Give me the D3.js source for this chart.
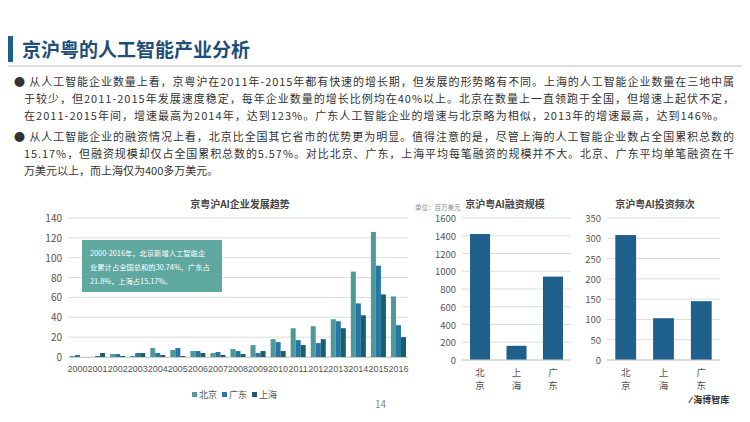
<!DOCTYPE html><html><head><meta charset="utf-8"><script src="https://cdn.jsdelivr.net/npm/d3@7"></script>
<style>body{margin:0;background:#fff;font-family:"Noto Sans CJK SC","Noto Sans",sans-serif}</style></head><body><svg id="c" width="750" height="422"></svg>
<script>
const years=["2000","2001","2002","2003","2004","2005","2006","2007","2008","2009","2010","2011","2012","2013","2014","2015","2016"];
const seriesNames=["北京","广东","上海"];
const beijing=[1,0,3,1,9,7,6,4,8,12,18,29,31,38,86,126,61];
const guangdong=[2,1,3,4,4,9,6,5,6,4,15,17,14,36,54,92,32];
const shanghai=[0,4,1,4,2,1,4,2,3,6,6,12,18,29,42,63,20];
const cities=["北京","上海","广东"];
const funding=[1420,160,940];
const frequency=[308,103,145];
const trendTicks=[0,20,40,60,80,100,120,140];
const fundTicks=[0,200,400,600,800,1000,1200,1400,1600];
const freqTicks=[0,50,100,150,200,250,300,350];
const colors=["#4f9a99","#2677a8","#165f6b"];
const svg=d3.select("#c");
svg.append("rect").attr("x",8).attr("y",36).attr("width",5).attr("height",26).attr("fill","#1f5f8b");
svg.append("text").attr("x",22).attr("y",57).attr("font-size",19).attr("font-weight","bold").attr("fill","#1f4e79").text("京沪粤的人工智能产业分析");
svg.append("line").attr("x1",8).attr("x2",742).attr("y1",66).attr("y2",66).attr("stroke","#bbb");
const lines=[["● 从人工智能企业数量上看，京粤沪在2011年-2015年都有快速的增长期，但发展的形势略有不同。上海的人工智能企业数量在三地中属",
"于较少，但2011-2015年发展速度稳定，每年企业数量的增长比例均在40%以上。北京在数量上一直领跑于全国，但增速上起伏不定，",
"在2011-2015年间，增速最高为2014年，达到123%。广东人工智能企业的增速与北京略为相似，2013年的增速最高，达到146%。"],
["● 从人工智能企业的融资情况上看，北京比全国其它省市的优势更为明显。值得注意的是，尽管上海的人工智能企业数占全国累积总数的",
"15.17%，但融资规模却仅占全国累积总数的5.57%。对比北京、广东，上海平均每笔融资的规模并不大。北京、广东平均单笔融资在千",
"万美元以上，而上海仅为400多万美元。"]];
const lens=[[720,710,700],[720,710,0]];
let y=86;
lines.forEach((p,pi)=>{p.forEach((l,i)=>{const t=svg.append("text").attr("x",i?24:14).attr("y",y).attr("font-size",11).attr("fill","#333").text(l);
 if(lens[pi][i]){t.attr("textLength",lens[pi][i]).attr("lengthAdjust","spacing");}y+=17;});y+=4;});
const g1={l:68,r:408,t:218,b:357};
const x0=d3.scaleBand().domain(years).range([g1.l,g1.r]).paddingInner(0.25).paddingOuter(0.1);
const x1=d3.scaleBand().domain([0,1,2]).range([0,x0.bandwidth()]);
const y1=d3.scaleLinear().domain([0,140]).range([g1.b,g1.t]);
trendTicks.forEach(t=>{svg.append("line").attr("x1",g1.l).attr("x2",g1.r).attr("y1",y1(t)).attr("y2",y1(t)).attr("stroke","#ddd");
svg.append("text").attr("x",g1.l-6).attr("y",y1(t)+4).attr("text-anchor","end").attr("font-size",10).attr("fill","#555").text(t);});
[beijing,guangdong,shanghai].forEach((s,k)=>svg.append("g").selectAll("rect").data(s).join("rect")
 .attr("x",(d,i)=>x0(years[i])+x1(k)).attr("width",x1.bandwidth()).attr("y",d=>y1(d)).attr("height",d=>g1.b-y1(d)).attr("fill",colors[k]));
svg.append("g").attr("transform",`translate(0,${g1.b})`).call(d3.axisBottom(x0).tickSize(0).tickPadding(9)).call(a=>{a.select(".domain").attr("stroke","#ccc");a.selectAll("text").attr("font-size",9).attr("fill","#555");});
svg.append("text").attr("x",240).attr("y",208).attr("text-anchor","middle").attr("font-size",10).attr("font-weight","bold").attr("fill","#444").text("京粤沪AI企业发展趋势");
svg.append("rect").attr("x",82).attr("y",240).attr("width",140).attr("height",52).attr("fill","#5fa8a0");
["2000-2016年，北京新增人工智能企","业累计占全国总和的30.74%，广东占","21.8%，上海占15.17%。"].forEach((t,i)=>svg.append("text").attr("x",90).attr("y",256+i*14).attr("font-size",7.3).attr("fill","#fff").text(t));
seriesNames.forEach((n,i)=>{svg.append("rect").attr("x",192+i*30).attr("y",392).attr("width",5).attr("height",5).attr("fill",colors[i]);
svg.append("text").attr("x",199+i*30).attr("y",398).attr("font-size",9).attr("fill","#555").text(n);});
svg.append("text").attr("x",375).attr("y",408).attr("font-size",10).attr("fill","#888").text("14");
function bar(L,R,T,B,data,ticks,max,title,tx){
 const x=d3.scaleBand().domain(cities).range([L,R]).paddingInner(0.45).paddingOuter(0.22);
 const yy=d3.scaleLinear().domain([0,max]).range([B,T]);
 ticks.forEach(t=>{svg.append("line").attr("x1",L).attr("x2",R).attr("y1",yy(t)).attr("y2",yy(t)).attr("stroke","#ddd");
 svg.append("text").attr("x",L-6).attr("y",yy(t)+4).attr("text-anchor","end").attr("font-size",9.5).attr("fill","#555").text(t);});
 svg.append("g").selectAll("rect").data(data).join("rect").attr("x",(d,i)=>x(cities[i])).attr("width",x.bandwidth()).attr("y",d=>yy(d)).attr("height",d=>B-yy(d)).attr("fill","#1f5f8b");
 svg.append("line").attr("x1",L).attr("x2",R).attr("y1",B).attr("y2",B).attr("stroke","#ccc");
 cities.forEach(c=>{[...c].forEach((ch,j)=>svg.append("text").attr("x",x(c)+x.bandwidth()/2).attr("y",B+16+j*13).attr("text-anchor","middle").attr("font-size",9.5).attr("fill","#555").text(ch));});
 svg.append("text").attr("x",tx).attr("y",208).attr("text-anchor","middle").attr("font-size",10).attr("font-weight","bold").attr("fill","#444").text(title);
}
bar(462,571,218,360,funding,fundTicks,1600,"京沪粤AI融资规模",505);
bar(607,720,218,360,frequency,freqTicks,350,"京沪粤AI投资频次",655);
svg.append("text").attr("x",415).attr("y",210).attr("font-size",6.5).attr("fill","#888").text("单位：百万美元");
svg.append("text").attr("x",690).attr("y",403).attr("font-size",9).attr("font-weight","bold").attr("fill","#333").text("⁄ 海博智库");
</script></body></html>
